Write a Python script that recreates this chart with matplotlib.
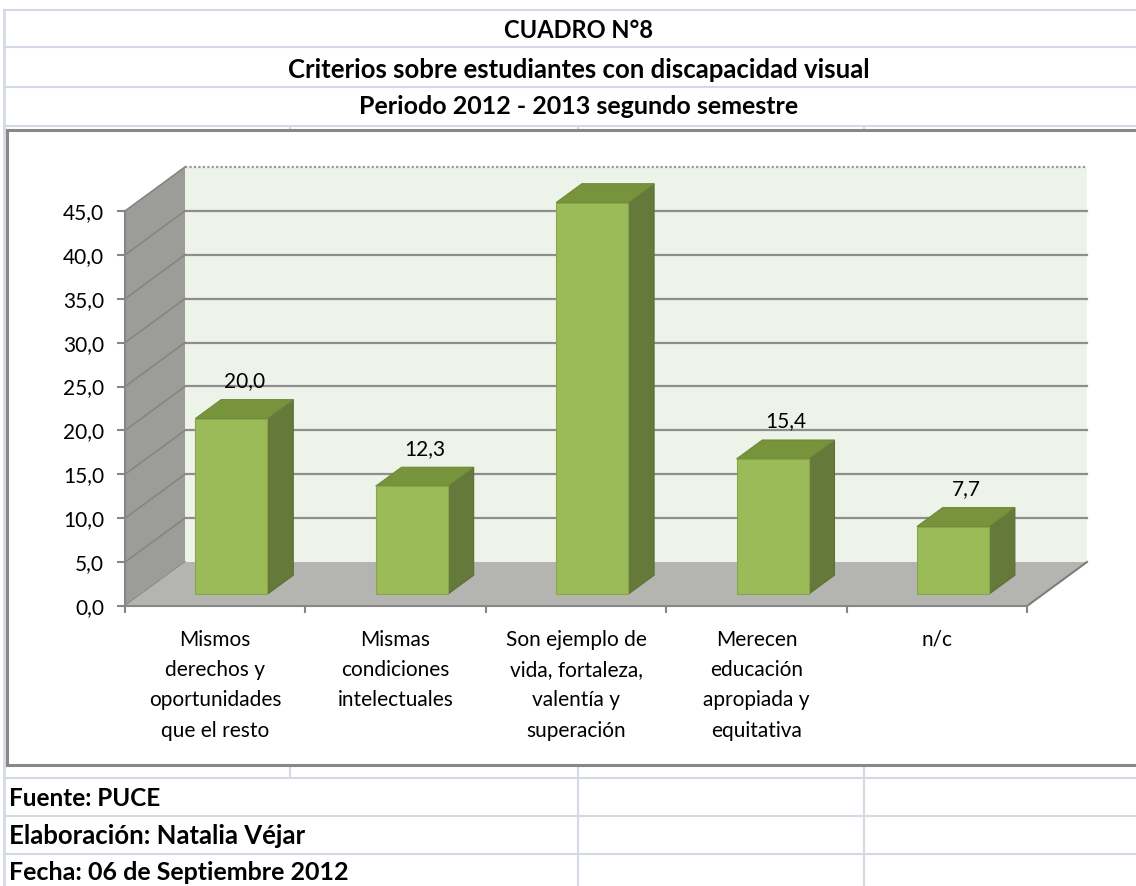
import matplotlib
matplotlib.use("Agg")
import matplotlib.pyplot as plt
from matplotlib.patches import Rectangle, Polygon
from matplotlib.lines import Line2D

plt.rcParams['font.family'] = ['Lato', 'DejaVu Sans']

# datos
categorias = ["Mismos\nderechos y\noportunidades\nque el resto",
              "Mismas\ncondiciones\nintelectuales",
              "Son ejemplo de\nvida, fortaleza,\nvalentía y\nsuperación",
              "Merecen\neducación\napropiada y\nequitativa",
              "n/c"]
valores = [20.0, 12.3, 44.6, 15.4, 7.7]
yticks = [0, 5, 10, 15, 20, 25, 30, 35, 40, 45]

titulos = ["CUADRO N°8",
           "Criterios sobre estudiantes con discapacidad visual",
           "Periodo 2012 - 2013 segundo semestre"]
pie = ["Fuente: PUCE", "Elaboración: Natalia Véjar", "Fecha: 06 de Septiembre 2012"]

W, H = 1136, 886
fig = plt.figure(figsize=(W / 100, H / 100), dpi=100)
fig.patch.set_facecolor("white")


def fx(px):
    return px / W


def fy(py):
    return 1 - py / H


# lineas de la hoja de calculo
grid_c = "#D3DAE6"
for py in [10, 47, 87, 126, 778, 816, 854]:
    fig.add_artist(Line2D([fx(4), 1], [fy(py), fy(py)], color=grid_c, lw=1.5))
fig.add_artist(Line2D([fx(4), fx(4)], [fy(10), 0], color=grid_c, lw=2))
for px in [290, 578, 864]:
    fig.add_artist(Line2D([fx(px), fx(px)], [fy(126), fy(130)], color=grid_c, lw=1.5))
fig.add_artist(Line2D([fx(290), fx(290)], [fy(766), fy(778)], color=grid_c, lw=1.5))
for px in [578, 864]:
    fig.add_artist(Line2D([fx(px), fx(px)], [fy(766), 0], color=grid_c, lw=1.5))

# titulos
for t, py, fs in zip(titulos, [31, 70, 107], [17, 18.5, 18]):
    fig.text(fx(579), fy(py), t, ha="center", va="center", fontsize=fs, fontweight="bold")
for t, py, fs in zip(pie, [798, 836, 873], [17.5, 18.5, 18]):
    fig.text(fx(9), fy(py), t, ha="left", va="center", fontsize=fs, fontweight="bold")

# borde del grafico
bc = "#888888"
fig.add_artist(Line2D([fx(7), 1], [fy(130), fy(130)], color=bc, lw=2.2))
fig.add_artist(Line2D([fx(7), 1], [fy(765), fy(765)], color=bc, lw=2.2))
fig.add_artist(Line2D([fx(7), fx(7)], [fy(130), fy(765)], color=bc, lw=2.2))

# ejes
ax = fig.add_axes([fx(125), fy(606), 902 / W, 395 / H])
ax.set_xlim(-0.5, 4.5)
ax.set_ylim(0, 45)
ax.patch.set_visible(False)

# profundidad 3d (en unidades de datos)
DX = 60 / 180.4
DY = 44 / (395 / 45)
F, D, BW = 0.27, 0.43, 0.40

x_l, x_r = -0.5, 4.5
# pared de fondo
ax.add_patch(Rectangle((x_l + DX, DY), x_r - x_l, 45, facecolor="#EEF3E9",
                       edgecolor="none", clip_on=False, zorder=0.5))
for v in yticks[1:-1]:
    ax.plot([x_l + DX, x_r + DX], [v + DY, v + DY], color="#8E8E8E", lw=1.6,
            clip_on=False, zorder=0.6)
ax.plot([x_l + DX, x_r + DX], [45 + DY, 45 + DY], color="#999999", lw=1.6,
        ls=(0, (1, 1)), clip_on=False, zorder=0.6)

# pared lateral
ax.add_patch(Polygon([(x_l, 0), (x_l + DX, DY), (x_l + DX, 45 + DY), (x_l, 45)],
                     facecolor="#9C9D99", edgecolor="none", clip_on=False, zorder=0.7))
for v in yticks:
    ax.plot([x_l, x_l + DX], [v, v + DY], color="#858585", lw=1.2,
            clip_on=False, zorder=0.8)

# piso
ax.add_patch(Polygon([(x_l, 0), (x_r, 0), (x_r + DX, DY), (x_l + DX, DY)],
                     facecolor="#B4B5B1", edgecolor="none", clip_on=False, zorder=0.9))
ax.plot([x_r, x_r + DX], [0, DY], color="#7E7E7E", lw=1.5, clip_on=False, zorder=0.95)

# barras
for i, v in enumerate(valores):
    x0 = i - BW / 2 + F * DX
    x1 = x0 + BW
    y0 = F * DY
    y1 = v + F * DY
    ddx, ddy = D * DX, D * DY
    ax.add_patch(Polygon([(x1, y0), (x1 + ddx, y0 + ddy), (x1 + ddx, y1 + ddy), (x1, y1)],
                         facecolor="#65793A", edgecolor="#5C6F34", lw=0.8,
                         clip_on=False, zorder=2))
    ax.add_patch(Polygon([(x0, y1), (x1, y1), (x1 + ddx, y1 + ddy), (x0 + ddx, y1 + ddy)],
                         facecolor="#77933C", edgecolor="#6E8938", lw=0.8,
                         clip_on=False, zorder=2))
    ax.add_patch(Rectangle((x0, y0), BW, v, facecolor="#9BBB59", edgecolor="#88A64A",
                           lw=0.8, clip_on=False, zorder=2.1))
    ax.annotate(f"{v:.1f}".replace(".", ","), (i + F * DX + ddx / 2, y1 + ddy),
                xytext=(0, 9), textcoords="offset points", ha="center",
                va="baseline", fontsize=15, zorder=3)

# spines y ticks
for s in ["top", "right"]:
    ax.spines[s].set_visible(False)
for s in ["left", "bottom"]:
    ax.spines[s].set_color("#868686")
    ax.spines[s].set_linewidth(1.5)
    ax.spines[s].set_zorder(2.5)

ax.set_yticks(yticks)
ax.set_yticklabels([f"{v:.1f}".replace(".", ",") for v in yticks])
ax.tick_params(axis="y", direction="out", length=6, width=1.5, color="#868686",
               pad=9, labelsize=15)

ax.set_xticks(range(len(categorias)))
ax.set_xticklabels(categorias, fontsize=15, linespacing=1.65)
ax.set_xticks([i - 0.5 for i in range(len(categorias) + 1)], minor=True)
ax.tick_params(axis="x", which="major", length=0, pad=17)
ax.tick_params(axis="x", which="minor", direction="out", length=5, width=1.5,
               color="#868686")

fig.savefig("out.png", dpi=100)
